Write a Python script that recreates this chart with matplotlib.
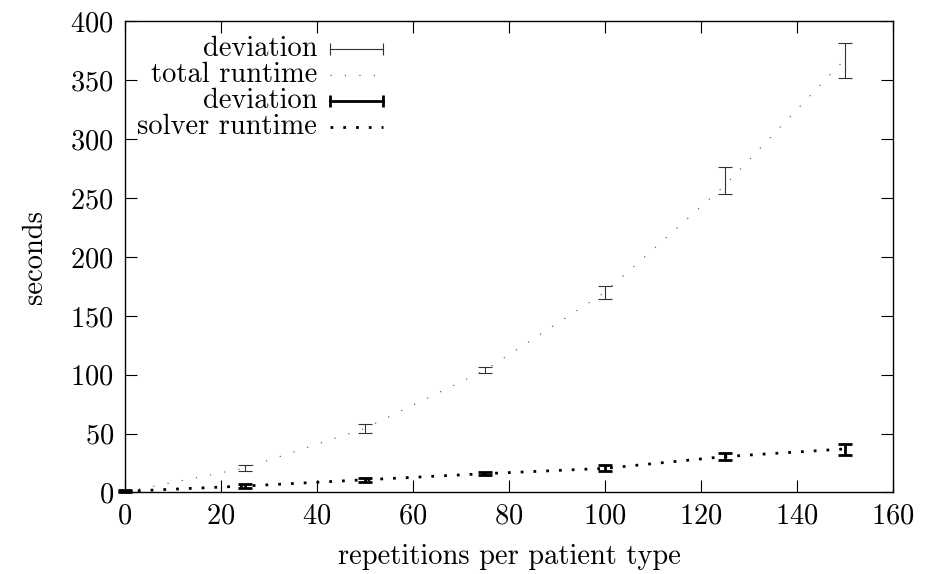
import matplotlib
matplotlib.use("Agg")
import matplotlib.pyplot as plt
import numpy as np

# ------------------------------
# Data
# ------------------------------
reps = [0, 25, 50, 75, 100, 125, 150]

total_mean = [0.5, 20.8, 54.5, 103.8, 170.0, 261.0, 368.0]
total_low = [0.0, 18.3, 50.5, 101.2, 164.6, 253.5, 352.3]
total_high = [1.0, 23.4, 58.4, 106.3, 175.6, 276.7, 381.5]

solver_mean = [1.0, 5.5, 10.8, 16.0, 20.5, 30.5, 37.0]
solver_low = [0.2, 4.1, 8.9, 14.9, 18.0, 27.6, 31.8]
solver_high = [2.0, 7.0, 12.6, 17.1, 23.1, 33.3, 40.9]

xticks = [0, 20, 40, 60, 80, 100, 120, 140, 160]
yticks = [0, 50, 100, 150, 200, 250, 300, 350, 400]

# ------------------------------
# Style: gnuplot-like, Computer Modern text
# ------------------------------
plt.rcParams['font.family'] = ['cmr10', 'DejaVu Serif']
plt.rcParams['mathtext.fontset'] = 'cm'
plt.rcParams['axes.formatter.use_mathtext'] = True
plt.rcParams['font.size'] = 20.5

fig = plt.figure(figsize=(9.29, 5.74), dpi=100)
ax = fig.add_axes([0.1346, 0.142, 0.8266, 0.8206])

total_err = [np.array(total_mean) - np.array(total_low),
             np.array(total_high) - np.array(total_mean)]
solver_err = [np.array(solver_mean) - np.array(solver_low),
              np.array(solver_high) - np.array(solver_mean)]

thin_dots = (0, (1, 12))
thick_dots = (0, (1, 3.6))

# total runtime
eb1 = ax.errorbar(reps, total_mean, yerr=total_err, fmt='none', ecolor='#333333',
                  elinewidth=0.8, capsize=4.7, capthick=0.8)
ax.plot(reps, total_mean, color='#444444', lw=0.8, linestyle=thin_dots)

# solver runtime
eb2 = ax.errorbar(reps, solver_mean, yerr=solver_err, fmt='none', ecolor='black',
                  elinewidth=2.0, capsize=4.7, capthick=2.0)
ax.plot(reps, solver_mean, color='black', lw=2.0, linestyle=thick_dots,
        dash_capstyle='butt')

for eb in (eb1, eb2):
    for art in eb.get_children():
        art.set_clip_on(False)

ax.set_xlim(0, 160)
ax.set_ylim(0, 400)
ax.set_xticks(xticks)
ax.set_yticks(yticks)
ax.tick_params(direction='in', length=8.6, width=0.8, top=True, right=True,
               labelsize=20.5, pad=8)
for s in ax.spines.values():
    s.set_linewidth(1.0)

ax.set_xlabel('repetitions per patient type', fontsize=20.5, labelpad=10)
ax.set_ylabel('seconds', fontsize=20.5, labelpad=16)

# gnuplot style key: labels right-aligned, sample on the right
key_rows = [0.9416, 0.886, 0.832, 0.777]
key_text = ['deviation', 'total runtime', 'deviation', 'solver runtime']
tx, s0, s1 = 0.25, 0.267, 0.336
for yy, label in zip(key_rows, key_text):
    ax.text(tx, yy, label, transform=ax.transAxes, ha='right', va='center',
            fontsize=20.5)

ax.plot([s0, s1], [key_rows[0]] * 2, transform=ax.transAxes, color='#333333',
        lw=0.8, marker='|', ms=9, mew=0.8)
ax.plot([s0, s1], [key_rows[1]] * 2, transform=ax.transAxes, color='#444444',
        lw=0.8, linestyle=thin_dots)
ax.plot([s0, s1], [key_rows[2]] * 2, transform=ax.transAxes, color='black',
        lw=2.0, marker='|', ms=9, mew=2.0)
ax.plot([s0, s1], [key_rows[3]] * 2, transform=ax.transAxes, color='black',
        lw=2.0, linestyle=thick_dots, dash_capstyle='butt')

fig.savefig('out.png', dpi=100)
